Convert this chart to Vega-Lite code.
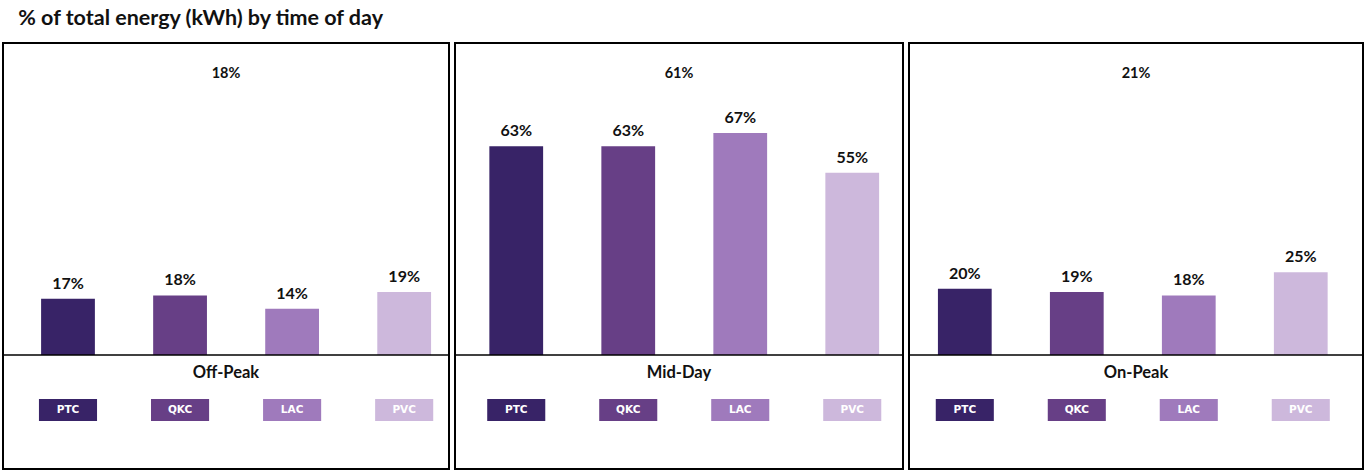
{
  "$schema": "https://vega.github.io/schema/vega-lite/v6.json",
  "padding": {"left": 1, "top": 7, "right": 0, "bottom": 0},
  "title": {"text": "% of total energy (kWh) by time of day", "anchor": "start", "fontSize": 21.5, "fontWeight": "bold", "font": "Lato", "color": "#111", "dx": 17, "offset": 13},
  "datasets": {
    "bars": [
      {"period": "Off-Peak", "site": "PTC", "share": 0.17},
      {"period": "Off-Peak", "site": "QKC", "share": 0.18},
      {"period": "Off-Peak", "site": "LAC", "share": 0.14},
      {"period": "Off-Peak", "site": "PVC", "share": 0.19},
      {"period": "Mid-Day", "site": "PTC", "share": 0.63},
      {"period": "Mid-Day", "site": "QKC", "share": 0.63},
      {"period": "Mid-Day", "site": "LAC", "share": 0.67},
      {"period": "Mid-Day", "site": "PVC", "share": 0.55},
      {"period": "On-Peak", "site": "PTC", "share": 0.20},
      {"period": "On-Peak", "site": "QKC", "share": 0.19},
      {"period": "On-Peak", "site": "LAC", "share": 0.18},
      {"period": "On-Peak", "site": "PVC", "share": 0.25}
    ],
    "totals": [
      {"period": "Off-Peak", "total": 0.18},
      {"period": "Mid-Day", "total": 0.61},
      {"period": "On-Peak", "total": 0.21}
    ]
  },
  "spacing": 2,
  "hconcat": [
    {
      "width": 446, "height": 426,
      "layer": [
        {"data": {"name": "bars"}, "transform": [{"filter": "datum.period === 'Off-Peak'"}],
         "mark": {"type": "bar"},
         "encoding": {
           "x": {"field": "site", "type": "nominal", "sort": ["PTC", "QKC", "LAC", "PVC"], "scale": {"paddingInner": 0.52, "paddingOuter": 0.25, "align": 0.68}, "axis": null},
           "y": {"field": "share", "type": "quantitative", "scale": {"domain": [-0.344, 0.942], "nice": false, "zero": false}, "axis": null},
           "color": {"field": "site", "type": "nominal", "scale": {"domain": ["PTC", "QKC", "LAC", "PVC"], "range": ["#382367", "#673f86", "#9f7abc", "#cdb8dc"]}, "legend": null}}},
        {"data": {"name": "bars"}, "transform": [{"filter": "datum.period === 'Off-Peak'"}],
         "mark": {"type": "text", "fontSize": 16, "fontWeight": "bold", "baseline": "alphabetic", "dy": -10, "color": "#111"},
         "encoding": {
           "x": {"field": "site", "type": "nominal", "sort": ["PTC", "QKC", "LAC", "PVC"], "axis": null},
           "y": {"field": "share", "type": "quantitative"},
           "text": {"field": "share", "type": "quantitative", "format": ".0%"}}},
        {"data": {"name": "bars"}, "transform": [{"filter": "datum.period === 'Off-Peak'"}],
         "mark": {"type": "bar", "width": {"band": 1.08}},
         "encoding": {
           "x": {"field": "site", "type": "nominal", "sort": ["PTC", "QKC", "LAC", "PVC"], "axis": null},
           "y": {"datum": -0.133, "type": "quantitative"},
           "y2": {"datum": -0.199},
           "color": {"field": "site", "type": "nominal", "legend": null}}},
        {"data": {"name": "bars"}, "transform": [{"filter": "datum.period === 'Off-Peak'"}],
         "mark": {"type": "text", "fontSize": 10.5, "font": "DejaVu Sans", "fontWeight": "bold", "color": "white", "baseline": "middle"},
         "encoding": {
           "x": {"field": "site", "type": "nominal", "sort": ["PTC", "QKC", "LAC", "PVC"], "axis": null},
           "y": {"datum": -0.166, "type": "quantitative"},
           "text": {"field": "site"}}},
        {"data": {"name": "totals"}, "transform": [{"filter": "datum.period === 'Off-Peak'"}],
         "mark": {"type": "text", "fontSize": 14.5, "fontWeight": "bold", "baseline": "middle", "color": "#111"},
         "encoding": {
           "y": {"datum": 0.849, "type": "quantitative"},
           "text": {"field": "total", "type": "quantitative", "format": ".0%"}}},
        {"data": {"name": "totals"}, "transform": [{"filter": "datum.period === 'Off-Peak'"}],
         "mark": {"type": "text", "fontSize": 16.5, "fontWeight": "bold", "baseline": "middle", "color": "#111"},
         "encoding": {
           "y": {"datum": -0.054, "type": "quantitative"},
           "text": {"field": "period"}}},
        {"data": {"name": "totals"}, "transform": [{"filter": "datum.period === 'Off-Peak'"}],
         "mark": {"type": "rule", "color": "black", "strokeWidth": 1.5},
         "encoding": {"y": {"datum": 0, "type": "quantitative"}}}
      ]
    },
    {
      "width": 448, "height": 426,
      "layer": [
        {"data": {"name": "bars"}, "transform": [{"filter": "datum.period === 'Mid-Day'"}],
         "mark": {"type": "bar"},
         "encoding": {
           "x": {"field": "site", "type": "nominal", "sort": ["PTC", "QKC", "LAC", "PVC"], "scale": {"paddingInner": 0.52, "paddingOuter": 0.26, "align": 0.59}, "axis": null},
           "y": {"field": "share", "type": "quantitative", "scale": {"domain": [-0.344, 0.942], "nice": false, "zero": false}, "axis": null},
           "color": {"field": "site", "type": "nominal", "scale": {"domain": ["PTC", "QKC", "LAC", "PVC"], "range": ["#382367", "#673f86", "#9f7abc", "#cdb8dc"]}, "legend": null}}},
        {"data": {"name": "bars"}, "transform": [{"filter": "datum.period === 'Mid-Day'"}],
         "mark": {"type": "text", "fontSize": 16, "fontWeight": "bold", "baseline": "alphabetic", "dy": -10, "color": "#111"},
         "encoding": {
           "x": {"field": "site", "type": "nominal", "sort": ["PTC", "QKC", "LAC", "PVC"], "axis": null},
           "y": {"field": "share", "type": "quantitative"},
           "text": {"field": "share", "type": "quantitative", "format": ".0%"}}},
        {"data": {"name": "bars"}, "transform": [{"filter": "datum.period === 'Mid-Day'"}],
         "mark": {"type": "bar", "width": {"band": 1.08}},
         "encoding": {
           "x": {"field": "site", "type": "nominal", "sort": ["PTC", "QKC", "LAC", "PVC"], "axis": null},
           "y": {"datum": -0.133, "type": "quantitative"},
           "y2": {"datum": -0.199},
           "color": {"field": "site", "type": "nominal", "legend": null}}},
        {"data": {"name": "bars"}, "transform": [{"filter": "datum.period === 'Mid-Day'"}],
         "mark": {"type": "text", "fontSize": 10.5, "font": "DejaVu Sans", "fontWeight": "bold", "color": "white", "baseline": "middle"},
         "encoding": {
           "x": {"field": "site", "type": "nominal", "sort": ["PTC", "QKC", "LAC", "PVC"], "axis": null},
           "y": {"datum": -0.166, "type": "quantitative"},
           "text": {"field": "site"}}},
        {"data": {"name": "totals"}, "transform": [{"filter": "datum.period === 'Mid-Day'"}],
         "mark": {"type": "text", "fontSize": 14.5, "fontWeight": "bold", "baseline": "middle", "color": "#111"},
         "encoding": {
           "y": {"datum": 0.849, "type": "quantitative"},
           "text": {"field": "total", "type": "quantitative", "format": ".0%"}}},
        {"data": {"name": "totals"}, "transform": [{"filter": "datum.period === 'Mid-Day'"}],
         "mark": {"type": "text", "fontSize": 16.5, "fontWeight": "bold", "baseline": "middle", "color": "#111"},
         "encoding": {
           "y": {"datum": -0.054, "type": "quantitative"},
           "text": {"field": "period"}}},
        {"data": {"name": "totals"}, "transform": [{"filter": "datum.period === 'Mid-Day'"}],
         "mark": {"type": "rule", "color": "black", "strokeWidth": 1.5},
         "encoding": {"y": {"datum": 0, "type": "quantitative"}}}
      ]
    },
    {
      "width": 454, "height": 426,
      "layer": [
        {"data": {"name": "bars"}, "transform": [{"filter": "datum.period === 'On-Peak'"}],
         "mark": {"type": "bar"},
         "encoding": {
           "x": {"field": "site", "type": "nominal", "sort": ["PTC", "QKC", "LAC", "PVC"], "scale": {"paddingInner": 0.52, "paddingOuter": 0.287, "align": 0.45}, "axis": null},
           "y": {"field": "share", "type": "quantitative", "scale": {"domain": [-0.344, 0.942], "nice": false, "zero": false}, "axis": null},
           "color": {"field": "site", "type": "nominal", "scale": {"domain": ["PTC", "QKC", "LAC", "PVC"], "range": ["#382367", "#673f86", "#9f7abc", "#cdb8dc"]}, "legend": null}}},
        {"data": {"name": "bars"}, "transform": [{"filter": "datum.period === 'On-Peak'"}],
         "mark": {"type": "text", "fontSize": 16, "fontWeight": "bold", "baseline": "alphabetic", "dy": -10, "color": "#111"},
         "encoding": {
           "x": {"field": "site", "type": "nominal", "sort": ["PTC", "QKC", "LAC", "PVC"], "axis": null},
           "y": {"field": "share", "type": "quantitative"},
           "text": {"field": "share", "type": "quantitative", "format": ".0%"}}},
        {"data": {"name": "bars"}, "transform": [{"filter": "datum.period === 'On-Peak'"}],
         "mark": {"type": "bar", "width": {"band": 1.08}},
         "encoding": {
           "x": {"field": "site", "type": "nominal", "sort": ["PTC", "QKC", "LAC", "PVC"], "axis": null},
           "y": {"datum": -0.133, "type": "quantitative"},
           "y2": {"datum": -0.199},
           "color": {"field": "site", "type": "nominal", "legend": null}}},
        {"data": {"name": "bars"}, "transform": [{"filter": "datum.period === 'On-Peak'"}],
         "mark": {"type": "text", "fontSize": 10.5, "font": "DejaVu Sans", "fontWeight": "bold", "color": "white", "baseline": "middle"},
         "encoding": {
           "x": {"field": "site", "type": "nominal", "sort": ["PTC", "QKC", "LAC", "PVC"], "axis": null},
           "y": {"datum": -0.166, "type": "quantitative"},
           "text": {"field": "site"}}},
        {"data": {"name": "totals"}, "transform": [{"filter": "datum.period === 'On-Peak'"}],
         "mark": {"type": "text", "fontSize": 14.5, "fontWeight": "bold", "baseline": "middle", "color": "#111"},
         "encoding": {
           "y": {"datum": 0.849, "type": "quantitative"},
           "text": {"field": "total", "type": "quantitative", "format": ".0%"}}},
        {"data": {"name": "totals"}, "transform": [{"filter": "datum.period === 'On-Peak'"}],
         "mark": {"type": "text", "fontSize": 16.5, "fontWeight": "bold", "baseline": "middle", "color": "#111"},
         "encoding": {
           "y": {"datum": -0.054, "type": "quantitative"},
           "text": {"field": "period"}}},
        {"data": {"name": "totals"}, "transform": [{"filter": "datum.period === 'On-Peak'"}],
         "mark": {"type": "rule", "color": "black", "strokeWidth": 1.5},
         "encoding": {"y": {"datum": 0, "type": "quantitative"}}}
      ]
    }
  ],
  "config": {
    "font": "Lato",
    "view": {"stroke": "black", "strokeWidth": 2},
    "background": "white"
  }
}
